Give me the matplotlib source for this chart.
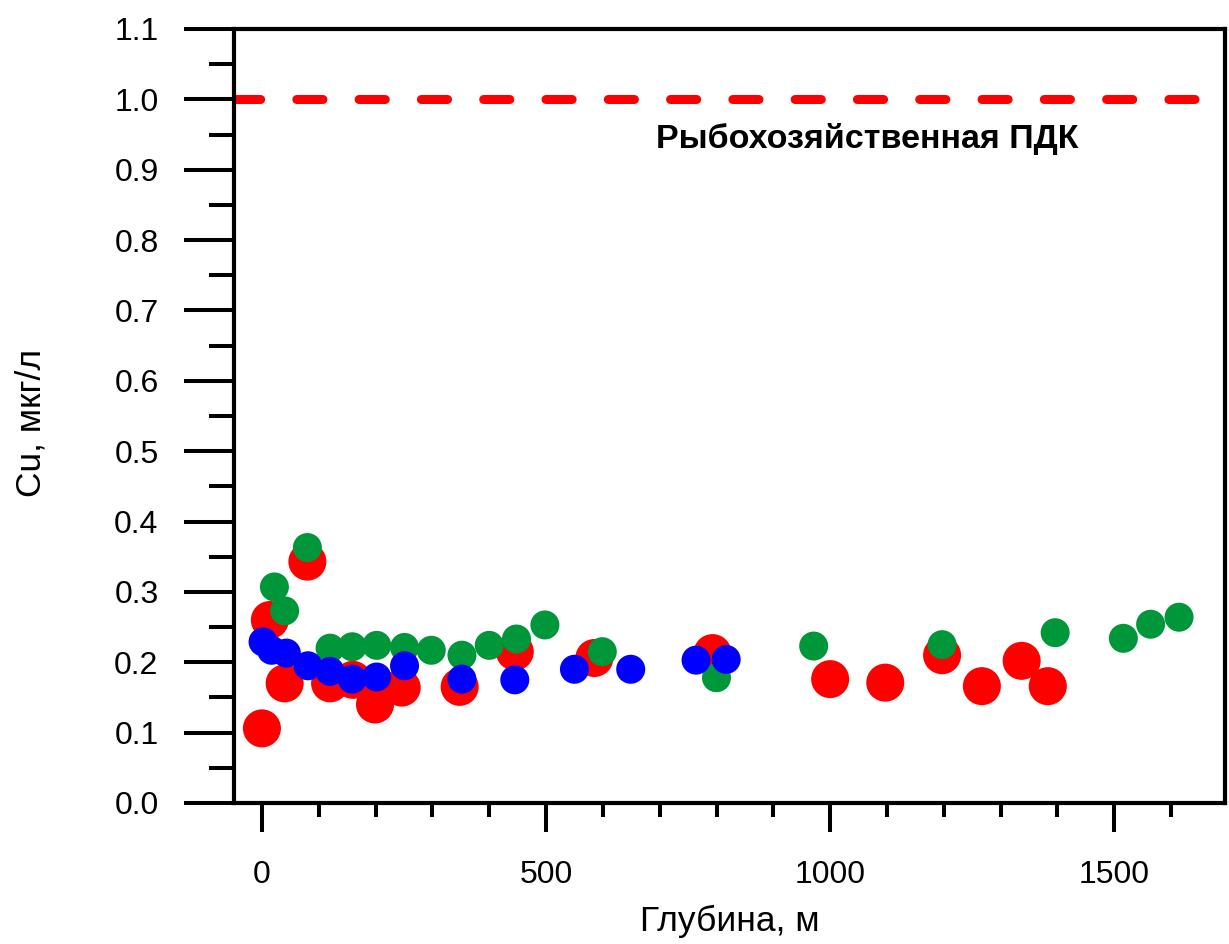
import numpy as np
import matplotlib
matplotlib.use("Agg")
import matplotlib.pyplot as plt
from matplotlib.ticker import MultipleLocator

plt.rcParams.update({
    "font.family": ["Liberation Sans", "DejaVu Sans"],
    "axes.linewidth": 3.0,
    "xtick.direction": "out",
    "ytick.direction": "out",
})

# Cu concentration vs depth, three series
red_x = [0, 14, 40, 80, 120, 160, 199, 246, 348, 445, 585, 793, 1000, 1097, 1197, 1267, 1337, 1383]
red_y = [0.106, 0.26, 0.17, 0.343, 0.17, 0.175, 0.14, 0.164, 0.165, 0.215, 0.206, 0.213,
         0.176, 0.171, 0.21, 0.166, 0.202, 0.166]

green_x = [22, 40, 80, 120, 159, 202, 251, 298, 352, 400, 448, 498, 599, 800, 971, 1197, 1396, 1516, 1564, 1614]
green_y = [0.307, 0.273, 0.363, 0.22, 0.222, 0.224, 0.221, 0.217, 0.21, 0.224, 0.233, 0.253,
           0.215, 0.178, 0.223, 0.225, 0.242, 0.234, 0.254, 0.264]

blue_x = [2, 17, 43, 81, 120, 159, 202, 251, 352, 445, 550, 649, 764, 817]
blue_y = [0.229, 0.217, 0.213, 0.195, 0.187, 0.176, 0.179, 0.195, 0.176, 0.175, 0.19, 0.19, 0.203, 0.204]

PDK = 1.0
PDK_LABEL = "Рыбохозяйственная ПДК"

fig = plt.figure(figsize=(12.29, 9.44), dpi=100)
ax = fig.add_axes([0.19, 0.1494, 0.8068, 0.8199])

ax.scatter(red_x, red_y, s=750, color="#FF0000", edgecolors="none", zorder=3)
ax.scatter(green_x, green_y, s=436, color="#00963A", edgecolors="none", zorder=4)
ax.scatter(blue_x, blue_y, s=436, color="#0000FF", edgecolors="none", zorder=5)

# fishery limit line
ax.axhline(PDK, color="#FF0000", linewidth=6.5, linestyle=(0, (2.9, 4.0)),
           dash_capstyle="round", zorder=2)
ax.text(694, 0.943, PDK_LABEL, fontsize=24.5, fontweight="bold", ha="left", va="center")

ax.set_xlim(-50, 1695)
ax.set_ylim(0, 1.1)

ax.xaxis.set_major_locator(MultipleLocator(500))
ax.xaxis.set_minor_locator(MultipleLocator(100))
ax.yaxis.set_major_locator(MultipleLocator(0.1))
ax.yaxis.set_minor_locator(MultipleLocator(0.05))
ax.yaxis.set_major_formatter(plt.FormatStrFormatter("%.1f"))

ax.tick_params(axis="y", which="major", length=36, width=2.9, pad=18, labelsize=23)
ax.tick_params(axis="y", which="minor", length=18, width=2.9)
ax.tick_params(axis="x", which="major", length=21, width=2.9, pad=20, labelsize=23)
ax.tick_params(axis="x", which="minor", length=10, width=2.9)

ax.set_xlabel("Глубина, м", fontsize=25.5)
ax.set_ylabel("Cu, мкг/л", fontsize=25.5)
ax.xaxis.set_label_coords(0.5008, -0.132)
ax.yaxis.set_label_coords(-0.188, 0.491)

fig.savefig("out.png", dpi=100)
